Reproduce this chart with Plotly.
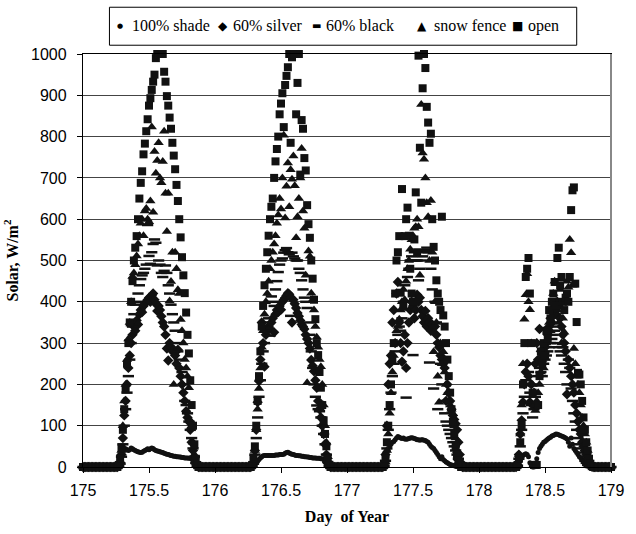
import plotly.graph_objects as go

# ---------------- data ----------------
DAYS = [175, 176, 177, 178]
STEPS_PER_DAY = 96          # 15-minute readings
FIRST_DAYLIGHT_STEP = 24    # daylight lists start at 06:00 (step 24), night readings are 0
X_TICKS = [175, 175.5, 176, 176.5, 177, 177.5, 178, 178.5, 179]
Y_TICKS = list(range(0, 1001, 100))

open_days = [
    [0, 0, 5, 20, 45, 90, 140, 190, 250, 300, 350, 400, 450, 500, 531, 559, 600, 650, 688, 716, 757, 783, 813, 842,
     875, 893, 913, 933, 950, 990, 1000, 1000, 1000, 1000, 1000, 957, 933, 898, 875, 846, 819, 785, 754, 721, 683,
     644, 600, 556, 508, 464, 421, 374, 320, 275, 210, 150, 100, 55, 20, 5, 0],
    [0, 0, 0, 5, 20, 50, 100, 160, 220, 280, 340, 390, 440, 480, 520, 560, 600, 630, 650, 700, 740, 770, 800, 854,
     880, 905, 823, 925, 947, 968, 1000, 785, 992, 1000, 1000, 854, 930, 1000, 708, 840, 819, 748, 718, 634, 588,
     555, 500, 456, 405, 358, 300, 271, 230, 192, 150, 113, 80, 50, 20, 5, 0],
    [0, 0, 0, 5, 20, 60, 100, 150, 200, 260, 300, 420, 500, 520, 559, 422, 673, 388, 559, 600, 628, 560, 480, 420,
     400, 551, 665, 520, 996, 773, 640, 917, 1000, 966, 872, 834, 785, 807, 600, 533, 500, 452, 420, 400, 380,
     606, 367, 340, 300, 260, 220, 180, 140, 110, 80, 50, 30, 15, 5, 0, 0],
    [0, 0, 0, 0, 5, 20, 60, 100, 200, 300, 460, 480, 506, 420, 300, 180, 5, 5, 5, 150, 220, 280, 250, 300,
     270, 330, 310, 380, 360, 400, 420, 448, 390, 506, 531, 440, 460, 400, 380, 410, 420, 400, 460, 622, 670,
     677, 444, 351, 228, 224, 200, 160, 120, 90, 60, 40, 20, 8, 2, 0, 0],
]

fence_days = [
    [0, 0, 3, 15, 40, 100, 160, 200, 260, 310, 350, 400, 461, 470, 490, 511, 540, 560, 590, 600, 560, 620, 626, 600,
     594, 644, 823, 617, 764, 711, 742, 785, 700, 688, 740, 813, 663, 570, 663, 402, 449, 520, 200, 520, 480,
     429, 420, 357, 330, 300, 260, 240, 220, 192, 113, 100, 60, 30, 12, 3, 0],
    [0, 0, 0, 3, 15, 40, 90, 140, 190, 240, 290, 330, 370, 400, 420, 450, 480, 500, 520, 540, 560, 590, 610, 650,
     625, 700, 803, 603, 680, 736, 630, 720, 697, 753, 681, 555, 606, 650, 700, 771, 620, 578, 464, 204, 523,
     510, 421, 405, 380, 340, 314, 290, 260, 243, 200, 150, 100, 60, 25, 5, 0],
    [0, 0, 0, 3, 12, 40, 80, 130, 180, 230, 270, 300, 330, 340, 358, 380, 400, 430, 405, 450, 480, 500, 527, 550,
     560, 578, 582, 600, 582, 464, 878, 760, 745, 700, 640, 606, 500, 645, 520, 279, 400, 350, 220, 157, 300,
     250, 279, 230, 200, 180, 160, 150, 140, 129, 100, 70, 40, 20, 6, 1, 0],
    [0, 0, 0, 0, 5, 30, 80, 150, 250, 358, 417, 468, 400, 381, 300, 200, 150, 137, 160, 180, 200, 230, 260, 240,
     280, 300, 326, 350, 330, 380, 420, 450, 400, 380, 350, 430, 300, 360, 326, 400, 450, 435, 551, 519, 440,
     287, 250, 220, 200, 180, 150, 120, 100, 80, 60, 40, 20, 8, 2, 0, 0],
]

silver_days = [
    [0, 0, 2, 10, 30, 70, 125, 160, 200, 240, 270, 300, 320, 340, 330, 355, 345, 370, 380, 375, 390, 395, 400, 405,
     410, 400, 415, 420, 405, 395, 378, 390, 380, 365, 350, 340, 320, 287, 258, 300, 290, 280, 284, 270, 250,
     284, 240, 220, 200, 180, 160, 135, 120, 110, 90, 60, 40, 20, 8, 2, 0],
    [0, 0, 0, 2, 10, 40, 90, 157, 208, 260, 350, 300, 243, 320, 330, 340, 335, 350, 360, 326, 370, 380, 375, 390,
     381, 400, 405, 410, 415, 421, 418, 410, 350, 405, 395, 385, 373, 365, 355, 345, 340, 334, 320, 310, 300,
     287, 259, 245, 232, 210, 192, 160, 140, 120, 100, 80, 55, 30, 12, 3, 0],
    [0, 0, 0, 5, 30, 100, 200, 250, 270, 350, 380, 300, 420, 448, 350, 300, 255, 280, 320, 240, 300, 350, 380, 400,
     390, 360, 380, 417, 400, 410, 380, 365, 350, 378, 340, 360, 350, 330, 345, 340, 340, 320, 300, 290, 270,
     260, 250, 240, 160, 200, 180, 160, 140, 125, 115, 105, 90, 60, 30, 10, 0],
    [0, 0, 0, 0, 5, 30, 80, 113, 157, 200, 230, 250, 220, 157, 200, 150, 180, 250, 300, 260, 334, 280, 250, 270,
     290, 300, 320, 340, 360, 350, 380, 390, 370, 400, 390, 360, 340, 320, 300, 280, 176, 260, 240, 220, 200,
     180, 150, 130, 110, 90, 80, 60, 50, 40, 30, 20, 10, 4, 1, 0, 0],
]

black_days = [
    [0, 0, 2, 8, 25, 55, 100, 140, 180, 220, 260, 300, 340, 370, 393, 400, 420, 440, 455, 464, 470, 480, 490, 586,
     511, 492, 520, 540, 551, 543, 488, 500, 490, 470, 460, 475, 488, 470, 440, 420, 393, 370, 350, 330, 300,
     280, 260, 240, 230, 200, 160, 150, 130, 110, 90, 70, 45, 25, 10, 2, 0],
    [0, 0, 0, 2, 8, 30, 70, 120, 170, 210, 250, 280, 300, 330, 350, 360, 318, 413, 400, 390, 430, 450, 472, 490,
     500, 505, 519, 525, 530, 520, 515, 366, 519, 510, 505, 500, 500, 480, 470, 452, 430, 410, 400, 385, 350,
     320, 280, 240, 200, 170, 149, 140, 135, 120, 100, 80, 55, 30, 12, 3, 0],
    [0, 0, 0, 3, 15, 45, 90, 140, 180, 220, 250, 280, 300, 320, 340, 330, 360, 400, 440, 168, 460, 480, 500, 510,
     271, 520, 500, 500, 452, 480, 500, 510, 520, 525, 531, 520, 253, 480, 430, 190, 400, 350, 140, 300, 250,
     200, 160, 130, 110, 100, 90, 80, 70, 60, 50, 40, 30, 20, 8, 2, 0],
    [0, 0, 0, 0, 3, 20, 50, 90, 130, 170, 210, 250, 230, 180, 150, 120, 140, 170, 200, 220, 240, 230, 220, 250,
     260, 270, 280, 290, 300, 310, 320, 330, 340, 300, 290, 280, 270, 290, 250, 230, 200, 260, 240, 190, 160,
     130, 110, 90, 70, 55, 45, 35, 25, 15, 10, 5, 2, 0, 0, 0, 0],
]

shade_days = [
    [0, 0, 2, 10, 30, 40, 45, 44, 42, 40, 42, 46, 44, 42, 40, 38, 37, 36, 35, 36, 38, 40, 42, 44,
     42, 44, 46, 45, 42, 40, 39, 38, 37, 36, 35, 33, 32, 31, 30, 29, 28, 27, 26, 26, 25,
     25, 24, 24, 23, 23, 22, 22, 22, 21, 21, 20, 15, 8, 3, 0, 0],
    [0, 0, 0, 1, 3, 6, 10, 14, 18, 22, 25, 27, 28, 28, 28, 28, 28, 28, 28, 28, 29, 29, 29, 30,
     30, 30, 31, 33, 35, 36, 34, 32, 31, 30, 29, 28, 28, 27, 27, 26, 26, 25, 25, 24, 24,
     23, 23, 22, 22, 22, 21, 21, 21, 20, 20, 18, 12, 6, 2, 0, 0],
    [0, 0, 0, 2, 10, 25, 40, 50, 55, 60, 62, 66, 70, 74, 72, 70, 69, 70, 68, 67, 68, 69, 70, 71,
     70, 69, 68, 66, 66, 65, 66, 66, 65, 64, 62, 60, 55, 50, 47, 45, 40, 35, 30, 25, 20,
     25, 18, 15, 12, 10, 8, 6, 5, 4, 3, 2, 1, 0, 0, 0, 0],
    [0, 0, 0, 0, 2, 8, 15, 22, 28, 30, 32, 30, 25, 10, 3, 0, 0, 5, 20, 35, 45, 50, 55, 60,
     62, 65, 68, 70, 72, 75, 76, 78, 80, 79, 78, 76, 75, 74, 72, 70, 68, 60, 50, 70, 55,
     45, 40, 35, 30, 25, 22, 18, 15, 12, 8, 5, 3, 1, 0, 0, 0],
]

SERIES_NAMES = ["100% shade", "60% silver", "60% black", "snow fence", "open"]
SERIES_DATA = [shade_days, silver_days, black_days, fence_days, open_days]
SERIES_SYMBOLS = ["circle", "diamond", "line-ew", "triangle-up", "square"]
SERIES_SIZES = [5, 8, 8, 9, 8]
LEGEND_GLYPHS = ["\u25cf", "\u25c6", "\u25ac", "\u25b2", "\u25a0"]

# ---------------- layout geometry (pixels) ----------------
W, H = 636, 534
L, R, T, B = 81, 16, 54, 56
PW, PH = W - L - R, H - T - B


def px_to_paper(px, py):
    return (px - L) / PW, (H - B - py) / PH


def full_series(daily):
    xs, ys = [], []
    for day, vals in zip(DAYS, daily):
        for s in range(STEPS_PER_DAY):
            j = s - FIRST_DAYLIGHT_STEP
            v = vals[j] if 0 <= j < len(vals) else 0
            xs.append(day + s / STEPS_PER_DAY)
            ys.append(v)
    xs.append(DAYS[-1] + 1)
    ys.append(0)
    return xs, ys


fig = go.Figure()
for name, daily, sym, size in zip(SERIES_NAMES, SERIES_DATA, SERIES_SYMBOLS, SERIES_SIZES):
    xs, ys = full_series(daily)
    if sym == "line-ew":
        marker = dict(symbol=sym, size=size, color="#111111",
                      line=dict(color="#111111", width=2.5))
    else:
        marker = dict(symbol=sym, size=size, color="#111111", line=dict(width=0))
    fig.add_trace(go.Scatter(x=xs, y=ys, mode="markers", name=name,
                             marker=marker, cliponaxis=False, showlegend=False))

# ---------------- legend drawn as a boxed row of text ----------------
box_x0, box_y0 = px_to_paper(108, 45)
box_x1, box_y1 = px_to_paper(585, 6)
fig.add_shape(type="rect", xref="paper", yref="paper", x0=box_x0, x1=box_x1, y0=box_y0, y1=box_y1,
              line=dict(color="black", width=1), fillcolor="white", layer="above")

glyph_px = [119, 224, 319, 427, 525]
text_px = [129, 232, 327, 437, 533]
glyph_sizes = [7, 12, 10, 12, 12]
glyph_fonts = ["DejaVu Sans"] * 5
LEG_Y = 25
for name, g, gx, tx, gs, gf in zip(SERIES_NAMES, LEGEND_GLYPHS, glyph_px, text_px, glyph_sizes, glyph_fonts):
    xg, yg = px_to_paper(gx, LEG_Y)
    fig.add_annotation(x=xg, y=yg, xref="paper", yref="paper", text=g, showarrow=False,
                       xanchor="center", yanchor="middle",
                       font=dict(family=gf, size=gs, color="black"))
    xt, yt = px_to_paper(tx, LEG_Y)
    fig.add_annotation(x=xt, y=yt, xref="paper", yref="paper", text=name, showarrow=False,
                       xanchor="left", yanchor="middle",
                       font=dict(family="Liberation Serif", size=16, color="black"))

fig.update_layout(
    width=W, height=H,
    margin=dict(l=L, r=R, t=T, b=B),
    paper_bgcolor="white", plot_bgcolor="white",
    showlegend=False,
    xaxis=dict(range=[175, 179], tickvals=X_TICKS, ticktext=[f"{v:g}" for v in X_TICKS],
               showgrid=False, zeroline=False,
               showline=True, linecolor="black", linewidth=1, mirror=True,
               ticks="outside", ticklen=5, tickcolor="black", ticklabelstandoff=4,
               tickfont=dict(family="Liberation Sans", size=16, color="black"),
               title=dict(text="Day\u00a0 of Year", standoff=12,
                          font=dict(family="Liberation Serif", size=16, color="black",
                                    weight="bold"))),
    yaxis=dict(range=[0, 1000], tickvals=Y_TICKS,
               showgrid=True, gridcolor="#444444", gridwidth=1, zeroline=False,
               showline=True, linecolor="black", linewidth=1.3, mirror=True,
               ticks="outside", ticklen=5, tickcolor="black", ticklabelstandoff=7,
               tickfont=dict(family="Liberation Sans", size=16, color="black"),
               title=dict(text="Solar, W/m<sup>2</sup>", standoff=8,
                          font=dict(family="Liberation Serif", size=16, color="black",
                                    weight="bold"))),
)
fig.add_shape(type="line", xref="paper", yref="paper", x0=1, x1=1, y0=0, y1=1,
              line=dict(color="#888888", width=2))

fig.write_html("out.html")
